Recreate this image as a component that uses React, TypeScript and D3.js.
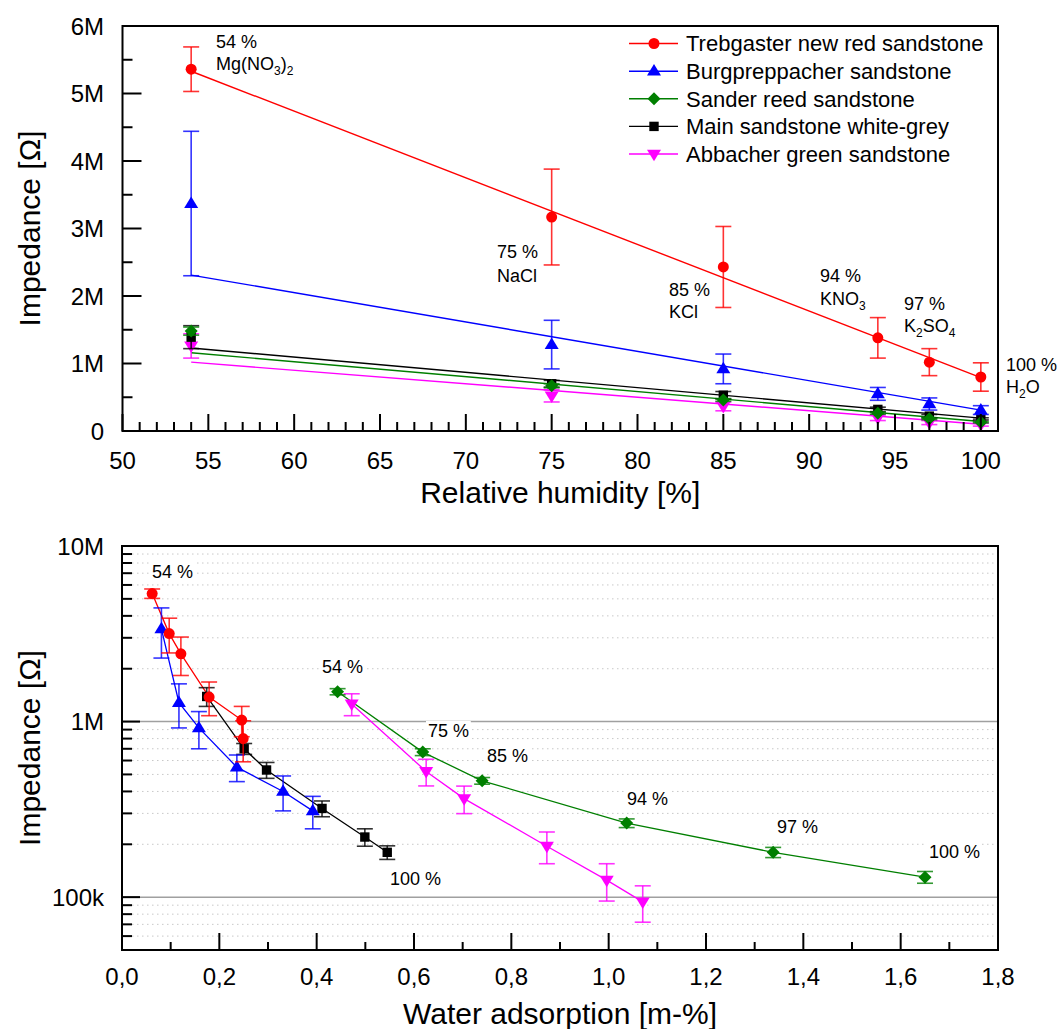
import React from "react";
import * as d3 from "d3";

// ---------- DATA ----------
const relHumidity = [54, 75, 85, 94, 97, 100];
const seriesNames = [
  "Trebgaster new red sandstone",
  "Burgpreppacher sandstone",
  "Sander reed sandstone",
  "Main sandstone white-grey",
  "Abbacher green sandstone",
];
// impedance in MΩ per relative humidity
const trebgaster = [5.36, 3.17, 2.43, 1.38, 1.02, 0.8];
const burgpreppacher = [3.37, 1.28, 0.92, 0.55, 0.4, 0.31];
const sanderReed = [1.48, 0.67, 0.46, 0.264, 0.18, 0.13];
const mainWhiteGrey = [1.39, 0.7, 0.53, 0.32, 0.22, 0.18];
const abbacherGreen = [1.26, 0.52, 0.364, 0.195, 0.125, 0.094];
// errors (MΩ)
const trebgasterErr = [0.33, 0.71, 0.6, 0.3, 0.2, 0.21];
const burgpreppacherErr = [1.07, 0.36, 0.22, 0.095, 0.09, 0.065];
const sanderReedErr = [0.06, 0.03, 0.02, 0.015, 0.012, 0.01];
const mainWhiteGreyErr = [0.17, 0.05, 0.055, 0.033, 0.025, 0.016];
const abbacherGreenErr = [0.18, 0.09, 0.065, 0.04, 0.03, 0.022];
// linear fit lines (MΩ at 54 % and 100 %)
const fitX = [54, 100];
const trebgasterFit = [5.33, 0.79];
const burgpreppacherFit = [2.31, 0.31];
const sanderReedFit = [1.16, 0.14];
const mainWhiteGreyFit = [1.23, 0.19];
const abbacherGreenFit = [1.02, 0.1];
// water adsorption (m-%)
const trebgasterWater = [0.062, 0.097, 0.121, 0.179, 0.246, 0.249];
const burgpreppacherWater = [0.081, 0.117, 0.158, 0.236, 0.331, 0.392];
const sanderReedWater = [0.443, 0.618, 0.74, 1.037, 1.338, 1.65];
const mainWhiteGreyWater = [0.174, 0.251, 0.297, 0.411, 0.499, 0.545];
const abbacherGreenWater = [0.472, 0.625, 0.703, 0.873, 0.996, 1.07];

const topYTicks = [0, 1, 2, 3, 4, 5, 6];
const topYLabels = ["0", "1M", "2M", "3M", "4M", "5M", "6M"];
const topXTicks = [50, 55, 60, 65, 70, 75, 80, 85, 90, 95, 100];
const botXTicks = [0, 0.2, 0.4, 0.6, 0.8, 1.0, 1.2, 1.4, 1.6, 1.8];
const botYTicks = [1e5, 1e6, 1e7];
const botYLabels = ["100k", "1M", "10M"];

const FONT = "'Liberation Sans', Arial, sans-serif";

type Marker = "circle" | "triangle" | "diamond" | "square" | "down";

const series = [
  { name: seriesNames[0], color: "#ff0000", marker: "circle" as Marker, y: trebgaster, err: trebgasterErr, fit: trebgasterFit, w: trebgasterWater },
  { name: seriesNames[1], color: "#0000ff", marker: "triangle" as Marker, y: burgpreppacher, err: burgpreppacherErr, fit: burgpreppacherFit, w: burgpreppacherWater },
  { name: seriesNames[2], color: "#007f00", marker: "diamond" as Marker, y: sanderReed, err: sanderReedErr, fit: sanderReedFit, w: sanderReedWater },
  { name: seriesNames[3], color: "#000000", marker: "square" as Marker, y: mainWhiteGrey, err: mainWhiteGreyErr, fit: mainWhiteGreyFit, w: mainWhiteGreyWater },
  { name: seriesNames[4], color: "#ff00ff", marker: "down" as Marker, y: abbacherGreen, err: abbacherGreenErr, fit: abbacherGreenFit, w: abbacherGreenWater },
];

function markerPath(m: Marker, x: number, y: number): string {
  switch (m) {
    case "circle": {
      const r = 5.5;
      return `M${x - r},${y}a${r},${r} 0 1,0 ${2 * r},0a${r},${r} 0 1,0 ${-2 * r},0Z`;
    }
    case "triangle": {
      const h = 11.5, s = 7;
      return `M${x},${y - h * 0.62}L${x + s},${y + h * 0.38}L${x - s},${y + h * 0.38}Z`;
    }
    case "down": {
      const h = 11.5, s = 7;
      return `M${x},${y + h * 0.62}L${x + s},${y - h * 0.38}L${x - s},${y - h * 0.38}Z`;
    }
    case "diamond": {
      const a = 6.5, b = 6.5;
      return `M${x},${y - b}L${x + a},${y}L${x},${y + b}L${x - a},${y}Z`;
    }
    case "square": {
      const s = 4.7;
      return `M${x - s},${y - s}h${2 * s}v${2 * s}h${-2 * s}Z`;
    }
  }
}

function ErrBar({ x, y1, y2, color }: { x: number; y1: number; y2: number; color: string }) {
  const c = 8;
  return (
    <g stroke={color} strokeWidth={1.6} strokeOpacity={0.8} fill="none">
      <line x1={x} x2={x} y1={y1} y2={y2} />
      <line x1={x - c} x2={x + c} y1={y1} y2={y1} />
      <line x1={x - c} x2={x + c} y1={y2} y2={y2} />
    </g>
  );
}

function Sub({ children }: { children: React.ReactNode }) {
  return (
    <tspan dy={5} fontSize={12}>
      {children}
    </tspan>
  );
}

function TopChart() {
  const L = 122.5, R = 998, T = 26, B = 431;
  const x = d3.scaleLinear().domain([50, 101]).range([L, R]);
  const y = d3.scaleLinear().domain([0, 6]).range([B, T]);
  const minorX = d3.range(51, 101, 1).filter((v) => v % 5 !== 0);
  const minorY = d3.range(0.5, 6, 1);
  const line = d3.line<[number, number]>().x((d) => x(d[0])).y((d) => y(d[1]));
  const legendY = [43.5, 71.2, 98.8, 126.4, 154];
  const order = [4, 3, 2, 1, 0];
  return (
    <g fontFamily={FONT}>
      {/* fit lines */}
      {order.map((i) => {
        const s = series[i];
        return (
          <path key={"f" + i} d={line(fitX.map((v, k) => [v, s.fit[k]]) as [number, number][]) || ""} stroke={s.color} strokeWidth={1.4} fill="none" />
        );
      })}
      {order.map((i) => {
        const s = series[i];
        return (
          <g key={"s" + i}>
            {relHumidity.map((h, k) => (
              <ErrBar key={k} x={x(h)} y1={y(s.y[k] + s.err[k])} y2={y(s.y[k] - s.err[k])} color={s.color} />
            ))}
            {relHumidity.map((h, k) => (
              <path key={"m" + k} d={markerPath(s.marker, x(h), y(s.y[k]))} fill={s.color} />
            ))}
          </g>
        );
      })}
      {/* frame */}
      <rect x={L} y={T} width={R - L} height={B - T} fill="none" stroke="#000" strokeWidth={2} />
      {/* x ticks */}
      {topXTicks.map((v) => (
        <g key={"xt" + v}>
          <line x1={x(v)} x2={x(v)} y1={B} y2={B - 17} stroke="#000" strokeWidth={2} />
          <text x={x(v)} y={469} fontSize={24} textAnchor="middle">{v}</text>
        </g>
      ))}
      {minorX.map((v) => (
        <line key={"xm" + v} x1={x(v)} x2={x(v)} y1={B} y2={B - 9} stroke="#000" strokeWidth={2} />
      ))}
      {/* y ticks */}
      {topYTicks.map((v, k) => (
        <g key={"yt" + v}>
          <line x1={L} x2={L + 19} y1={y(v)} y2={y(v)} stroke="#000" strokeWidth={2} />
          <text x={104} y={y(v) + 8.5} fontSize={24} textAnchor="end">{topYLabels[k]}</text>
        </g>
      ))}
      {minorY.map((v) => (
        <line key={"ym" + v} x1={L} x2={L + 10} y1={y(v)} y2={y(v)} stroke="#000" strokeWidth={2} />
      ))}
      {/* titles */}
      <text x={(L + R) / 2} y={503} fontSize={30} textAnchor="middle">Relative humidity [%]</text>
      <text transform={`translate(40,${(T + B) / 2}) rotate(-90)`} fontSize={30} textAnchor="middle">Impedance [Ω]</text>
      {/* annotations */}
      <g fontSize={18}>
        <text x={216} y={48}>54 %</text>
        <text x={216} y={70}>Mg(NO<Sub>3</Sub><tspan dy={-5}>)</tspan><Sub>2</Sub></text>
        <text x={497} y={258}>75 %</text>
        <text x={497} y={282}>NaCl</text>
        <text x={669} y={296}>85 %</text>
        <text x={669} y={318}>KCl</text>
        <text x={820} y={282}>94 %</text>
        <text x={820} y={305}>KNO<Sub>3</Sub></text>
        <text x={904} y={310}>97 %</text>
        <text x={904} y={332}>K<Sub>2</Sub><tspan dy={-5}>SO</tspan><Sub>4</Sub></text>
        <text x={1006} y={371}>100 %</text>
        <text x={1006} y={393}>H<Sub>2</Sub><tspan dy={-5}>O</tspan></text>
      </g>
      {/* legend */}
      {series.map((s, i) => (
        <g key={"lg" + i}>
          <line x1={629} x2={678} y1={legendY[i]} y2={legendY[i]} stroke={s.color} strokeWidth={1.4} />
          <path d={markerPath(s.marker, 654, legendY[i])} fill={s.color} />
          <text x={686} y={legendY[i]} dy="0.36em" fontSize={22}>{s.name}</text>
        </g>
      ))}
    </g>
  );
}

function BottomChart() {
  const L = 122, R = 998, T = 546, B = 950;
  const x = d3.scaleLinear().domain([0, 1.8]).range([L, R]);
  const y = d3.scaleLog().domain([5e4, 1e7]).range([B, T]);
  const minorY: number[] = [];
  [1e4, 1e5, 1e6].forEach((dec) => {
    for (let k = 2; k <= 9; k++) {
      const v = k * dec;
      if (v > 5e4 && v < 1e7) minorY.push(v);
    }
  });
  const minorX = d3.range(0.1, 1.8, 0.2);
  const line = d3.line<[number, number]>().x((d) => x(d[0])).y((d) => y(d[1]));
  const order = [4, 2, 3, 1, 0];
  const notes = [
    { t: "54 %", x: 152, y: 578 },
    { t: "54 %", x: 322, y: 673 },
    { t: "75 %", x: 428, y: 737 },
    { t: "85 %", x: 487, y: 762 },
    { t: "94 %", x: 627, y: 805 },
    { t: "97 %", x: 777, y: 833 },
    { t: "100 %", x: 929, y: 858 },
    { t: "100 %", x: 390, y: 885 },
  ];
  return (
    <g fontFamily={FONT}>
      {/* grid */}
      {minorY.map((v) => (
        <line key={"g" + v} x1={L} x2={R} y1={y(v)} y2={y(v)} stroke="#c8c8c8" strokeWidth={1} strokeDasharray="1.5,3.5" />
      ))}
      {botYTicks.slice(0, 2).map((v) => (
        <line key={"G" + v} x1={L} x2={R} y1={y(v)} y2={y(v)} stroke="#a0a0a0" strokeWidth={1.5} />
      ))}
      {/* annotation backgrounds */}
      {notes.map((n, i) => (
        <rect key={"nb" + i} x={n.x - 2} y={n.y - 16} width={n.t.length * 10.2 + 4} height={21} fill="#fff" />
      ))}
      {order.map((i) => {
        const s = series[i];
        return (
          <path key={"l" + i} d={line(s.w.map((v, k) => [v, s.y[k] * 1e6]) as [number, number][]) || ""} stroke={s.color} strokeWidth={1.3} fill="none" />
        );
      })}
      {order.map((i) => {
        const s = series[i];
        return (
          <g key={"s" + i}>
            {s.w.map((w, k) => (
              <ErrBar key={k} x={x(w)} y1={y((s.y[k] + s.err[k]) * 1e6)} y2={y((s.y[k] - s.err[k]) * 1e6)} color={s.color} />
            ))}
            {s.w.map((w, k) => (
              <path key={"m" + k} d={markerPath(s.marker, x(w), y(s.y[k] * 1e6))} fill={s.color} />
            ))}
          </g>
        );
      })}
      {/* frame */}
      <rect x={L} y={T} width={R - L} height={B - T} fill="none" stroke="#000" strokeWidth={2} />
      {botXTicks.map((v) => (
        <g key={"xt" + v}>
          <line x1={x(v)} x2={x(v)} y1={B} y2={B - 17} stroke="#000" strokeWidth={2} />
          <text x={x(v)} y={985} fontSize={24} textAnchor="middle">{v.toFixed(1).replace(".", ",")}</text>
        </g>
      ))}
      {minorX.map((v) => (
        <line key={"xm" + v} x1={x(v)} x2={x(v)} y1={B} y2={B - 8} stroke="#000" strokeWidth={2} />
      ))}
      {botYTicks.map((v, k) => (
        <g key={"yt" + v}>
          <line x1={L} x2={L + 18} y1={y(v)} y2={y(v)} stroke="#000" strokeWidth={2} />
          <text x={104} y={y(v) + 8.5} fontSize={24} textAnchor="end">{botYLabels[k]}</text>
        </g>
      ))}
      {minorY.map((v) => (
        <line key={"ym" + v} x1={L} x2={L + 10} y1={y(v)} y2={y(v)} stroke="#000" strokeWidth={2} />
      ))}
      <text x={(L + R) / 2} y={1024} fontSize={30} textAnchor="middle">Water adsorption [m-%]</text>
      <text transform={`translate(40,${(T + B) / 2}) rotate(-90)`} fontSize={30} textAnchor="middle">Impedance [Ω]</text>
      <g fontSize={18}>
        {notes.map((n, i) => (
          <text key={"n" + i} x={n.x} y={n.y}>{n.t}</text>
        ))}
      </g>
    </g>
  );
}

export default function App() {
  return (
    <svg width={1058} height={1029} style={{ position: "absolute", left: 0, top: 0, background: "#fff" }}>
      <rect width={1058} height={1029} fill="#fff" />
      <TopChart />
      <BottomChart />
    </svg>
  );
}
